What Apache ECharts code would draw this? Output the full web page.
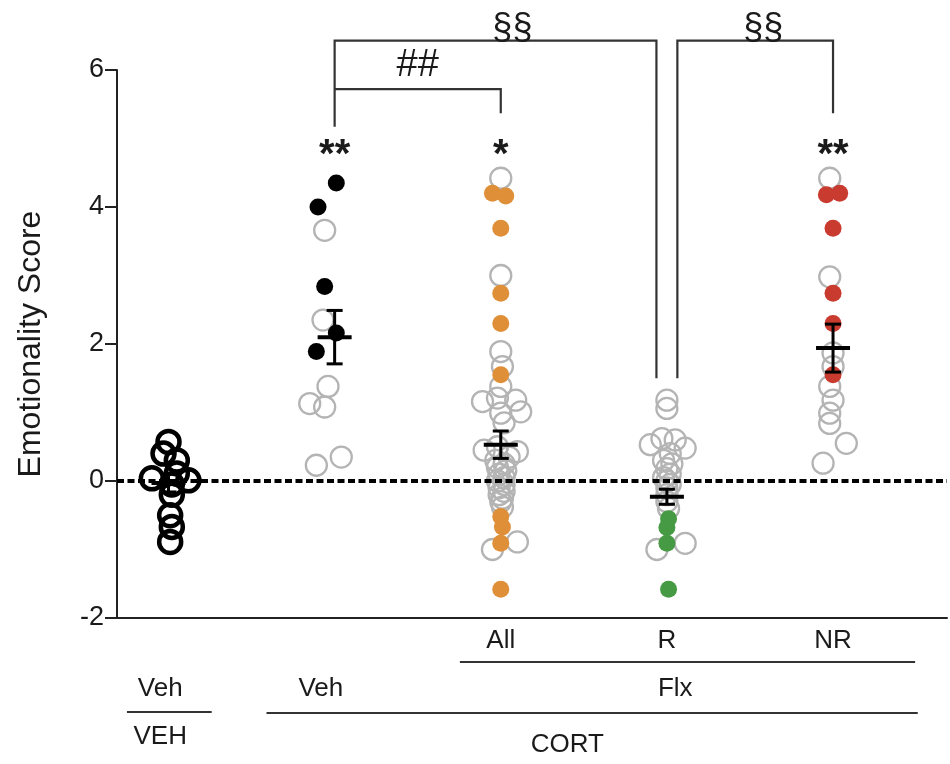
<!DOCTYPE html>
<html>
<head>
<meta charset="utf-8">
<script src="https://cdn.jsdelivr.net/npm/echarts@6/dist/echarts.min.js"></script>
<style>
html,body{margin:0;padding:0;background:#fff;}
#chart{width:950px;height:764px;}
</style>
</head>
<body>
<div id="chart"></div>
<script>
// ---- data (pairs: [horizontal jitter within group, score]) ----
const groups = ['VEH / Veh', 'CORT / Veh', 'CORT / Flx All', 'CORT / Flx R', 'CORT / Flx NR'];
const yTicks = [-2, 0, 2, 4, 6];

const vehVehOpen = [[0.00,0.57],[-0.03,0.40],[0.05,0.30],[-0.10,0.04],[0.05,0.11],[0.12,0.01],[0.02,-0.05],[0.02,-0.20],[0.01,-0.50],[0.02,-0.67],[0.01,-0.89]];

const cortVehFilled = [[0.01,4.35],[-0.10,4.00],[-0.06,2.84],[0.01,2.16],[-0.11,1.89]];
const cortVehOpen = [[-0.06,3.66],[-0.07,2.35],[-0.04,1.38],[-0.15,1.13],[-0.06,1.08],[0.04,0.35],[-0.11,0.23]];

const flxAllFilled = [[-0.05,4.20],[0.03,4.16],[0,3.69],[0,2.74],[0,2.30],[0,1.55],[0,-0.52],[0.01,-0.67],[0,-0.91],[0,-1.58]];
const flxAllOpen = [[0,4.42],[0,3.00],[0,1.89],[0.01,1.67],[0,1.38],[-0.02,1.21],[-0.11,1.16],[0.09,1.18],[0.12,1.01],[0,0.99],[0.02,0.85],[-0.02,0.50],[-0.10,0.45],[0.10,0.43],[0.05,0.35],[-0.03,0.30],[0.02,0.25],[-0.02,0.20],[0.03,0.15],[-0.01,0.10],[0.02,0.05],[-0.02,0.00],[0.02,-0.05],[-0.01,-0.10],[0.02,-0.15],[-0.01,-0.20],[0.01,-0.25],[0,-0.30],[0.01,-0.38],[0.10,-0.89],[-0.05,-1.00]];

const flxRFilled = [[0.01,-0.55],[0,-0.68],[0,-0.91],[0.01,-1.58]];
const flxROpen = [[0,1.18],[0,1.06],[-0.03,0.62],[0.05,0.60],[-0.10,0.53],[0.11,0.48],[0.02,0.40],[-0.02,0.30],[0.03,0.25],[0,0.18],[0.02,0.10],[-0.02,0.05],[0,0],[0.02,-0.05],[0,-0.10],[0,-0.20],[0,-0.30],[0.01,-0.40],[0.11,-0.91],[-0.06,-1.00]];

const flxNRFilled = [[-0.04,4.18],[0.04,4.20],[0,3.69],[0,2.74],[0,2.30],[0,1.55]];
const flxNROpen = [[-0.02,4.42],[-0.02,2.98],[0,1.87],[0,1.67],[-0.02,1.38],[0,1.18],[-0.02,0.99],[-0.02,0.84],[0.08,0.55],[-0.06,0.26]];

const groupMeans = [-0.03, 2.10, 0.53, -0.23, 1.94];
const groupSEM   = [0.13, 0.39, 0.20, 0.11, 0.35];

const sigAbove = ['', '**', '*', '', '**'];
const sigHash = '##';
const sigSection = '§§';

// ---- build ----
function place(arr, g) { return arr.map(p => [g + p[0], p[1]]); }

const grayRing = '#b4b4b4';
const FONT = 'Liberation Sans, Arial, Helvetica, sans-serif';
const TXT = '#1a1a1a';

const chart = echarts.init(document.getElementById('chart'));

const meanData = groupMeans.map((m, i) => [i, m, groupSEM[i]]);

chart.setOption({
  animation: false,
  backgroundColor: '#fff',
  grid: { left: 117, right: 3, top: 70, bottom: 146 },
  xAxis: {
    type: 'value', min: -0.31, max: 4.686,
    axisLine: { show: true, onZero: false, lineStyle: { color: '#222', width: 2 } },
    axisTick: { show: false }, axisLabel: { show: false }, splitLine: { show: false }
  },
  yAxis: {
    type: 'value', min: yTicks[0], max: yTicks[yTicks.length - 1], interval: 2,
    name: 'Emotionality Score', nameLocation: 'middle', nameGap: 70, nameRotate: 90,
    nameTextStyle: { fontFamily: FONT, fontSize: 32, color: TXT },
    axisLine: { show: true, onZero: false, lineStyle: { color: '#222', width: 2 } },
    axisTick: { show: true, length: 12, lineStyle: { color: '#222', width: 2 } },
    axisLabel: { fontFamily: FONT, fontSize: 27, color: TXT, margin: 13 },
    splitLine: { show: false }
  },
  series: [
    { type: 'scatter', name: 'open', z: 2, symbol: 'circle', symbolSize: 21,
      itemStyle: { color: 'rgba(0,0,0,0)', borderColor: grayRing, borderWidth: 2.3, opacity: 1 },
      data: [].concat(place(cortVehOpen,1), place(flxAllOpen,2), place(flxROpen,3), place(flxNROpen,4)) },
    { type: 'scatter', name: 'vehveh', z: 3, symbol: 'circle', symbolSize: 22,
      itemStyle: { color: 'rgba(0,0,0,0)', borderColor: '#000', borderWidth: 4.5, opacity: 1 },
      data: place(vehVehOpen, 0) },
    { type: 'scatter', name: 'cortVehFilled', z: 3, symbolSize: 17, itemStyle: { color: '#000', opacity: 1 }, data: place(cortVehFilled,1) },
    { type: 'scatter', name: 'allFilled', z: 3, symbolSize: 17, itemStyle: { color: '#df8f38', opacity: 1 }, data: place(flxAllFilled,2) },
    { type: 'scatter', name: 'rFilled', z: 3, symbolSize: 17, itemStyle: { color: '#479a44', opacity: 1 }, data: place(flxRFilled,3) },
    { type: 'scatter', name: 'nrFilled', z: 3, symbolSize: 17, itemStyle: { color: '#c93a2f', opacity: 1 }, data: place(flxNRFilled,4) },
    { type: 'scatter', name: 'zero', z: 4, data: [],
      markLine: { silent: true, symbol: ['none','none'], label: { show: false },
        lineStyle: { type: [7, 3.5], width: 4, color: '#000', opacity: 1 }, data: [{ yAxis: 0 }] } },
    { type: 'custom', name: 'mean', z: 5, data: meanData,
      renderItem: function (params, api) {
        const x = api.value(0), m = api.value(1), s = api.value(2);
        const c = api.coord([x, m]);
        const t = api.coord([x, m + s]);
        const b = api.coord([x, m - s]);
        const hw = 17, cw = 8, st = { stroke: '#000', lineWidth: 3 };
        return { type: 'group', children: [
          { type: 'line', shape: { x1: c[0]-hw, y1: c[1], x2: c[0]+hw, y2: c[1] }, style: { stroke: '#000', lineWidth: 4 } },
          { type: 'line', shape: { x1: c[0], y1: t[1], x2: c[0], y2: b[1] }, style: st },
          { type: 'line', shape: { x1: c[0]-cw, y1: t[1], x2: c[0]+cw, y2: t[1] }, style: st },
          { type: 'line', shape: { x1: c[0]-cw, y1: b[1], x2: c[0]+cw, y2: b[1] }, style: st }
        ]};
      } }
  ]
});

// ---- annotations positioned through the axes ----
function P(x, y) { return chart.convertToPixel({ gridIndex: 0 }, [x, y]); }
function poly(pts) {
  return { type: 'polyline', z: 10, shape: { points: pts.map(p => P(p[0], p[1])) },
           style: { stroke: '#333', lineWidth: 2.2, fill: null } };
}
function txt(s, x, y, size, weight) {
  return { type: 'text', z: 10, style: { text: s, x: x, y: y, fill: TXT,
    font: (weight || 'normal') + ' ' + size + 'px ' + FONT, textAlign: 'center', textVerticalAlign: 'middle' } };
}
function hline(x1, x2, y) {
  return { type: 'line', z: 10, shape: { x1: x1, y1: y, x2: x2, y2: y }, style: { stroke: '#333', lineWidth: 2.2 } };
}
const rOff = 0.063;
const g = [];
g.push(poly([[1,5.17],[1,6.43],[3-rOff,6.43],[3-rOff,1.50]]));
g.push(poly([[3+rOff,1.50],[3+rOff,6.43],[4,6.43],[4,5.37]]));
g.push(poly([[1,5.72],[2,5.72],[2,5.37]]));

sigAbove.forEach((s, i) => {
  if (!s) return;
  const p = P(i, 4.9);
  g.push(txt(s, p[0], p[1] + 11, 40, 'bold'));
});
let p = P(1.5, 6.07); g.push(txt(sigHash, p[0], p[1], 38));
p = P(2.07, 6.6); g.push(txt(sigSection, p[0], p[1], 36));
p = P(3.58, 6.6); g.push(txt(sigSection, p[0], p[1], 36));

// group labels under the axis
const xs = i => P(i, 0)[0];
g.push(txt('All', xs(2), 641, 26));
g.push(txt('R', xs(3), 641, 26));
g.push(txt('NR', xs(4), 641, 26));
g.push(hline(P(1.754,0)[0], P(4.494,0)[0], 662));
g.push(txt('Veh', P(-0.05,0)[0], 689, 26));
g.push(txt('Veh', P(0.917,0)[0], 689, 26));
g.push(txt('Flx', P(3.05,0)[0], 689, 26));
g.push(hline(P(-0.25,0)[0], P(0.26,0)[0], 712));
g.push(hline(P(0.59,0)[0], P(4.51,0)[0], 713));
g.push(txt('VEH', P(-0.05,0)[0], 737, 26));
g.push(txt('CORT', P(2.40,0)[0], 745, 26));

chart.setOption({ graphic: { elements: g } });
</script>
</body>
</html>
